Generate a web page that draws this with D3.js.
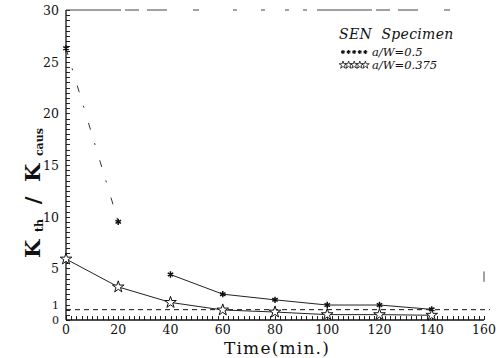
<!DOCTYPE html>
<html>
<head>
<meta charset="utf-8">
<script src="https://cdn.jsdelivr.net/npm/d3@7"></script>
<style>
	body { margin: 0; background: #fff; }
	svg text { font-family: "DejaVu Serif", "Liberation Serif", serif; fill: #111; }
</style>
</head>
<body>
<div id="graphic"></div>
<script>
// Data
const times = [0, 20, 40, 60, 80, 100, 120, 140];
const ratioHalf = [26.3, 9.5, 4.4, 2.5, 1.95, 1.45, 1.45, 1.03];   // a/W=0.5
const ratioThreeEighths = [5.9, 3.2, 1.7, 0.97, 0.77, 0.52, 0.52, 0.46]; // a/W=0.375
const xTicks = [0, 20, 40, 60, 80, 100, 120, 140, 160];
const yTicks = [0, 1, 5, 10, 15, 20, 25, 30];
const refLevel = 1;

const width = 502, height = 358;
const x = d3.scaleLinear().domain([0, 160]).range([66, 484]);
const y = d3.scaleLinear().domain([0, 30]).range([320, 10]);

const svg = d3.select('#graphic').append('svg')
	.attr('width', width)
	.attr('height', height);

// minor ticks, drawn inward like the original plotter output
svg.append('g').selectAll('line').data(d3.range(0, 161, 2)).join('line')
	.attr('x1', d => Math.round(x(d)) + 0.5).attr('x2', d => Math.round(x(d)) + 0.5)
	.attr('y1', y(0)).attr('y2', y(0) - 4)
	.attr('stroke', '#222').attr('stroke-width', 1);

svg.append('g').selectAll('line').data(d3.range(0, 30.01, 0.5)).join('line')
	.attr('x1', x(0)).attr('x2', x(0) + 4)
	.attr('y1', d => Math.round(y(d)) + 0.5).attr('y2', d => Math.round(y(d)) + 0.5)
	.attr('stroke', '#222').attr('stroke-width', 1);

// frame lines
svg.append('line')
	.attr('x1', x(0)).attr('x2', x(160))
	.attr('y1', y(0)).attr('y2', y(0))
	.attr('stroke', '#111').attr('stroke-width', 1.3);
svg.append('line')
	.attr('x1', x(0)).attr('x2', x(0))
	.attr('y1', y(0)).attr('y2', y(30))
	.attr('stroke', '#111').attr('stroke-width', 1.3);
svg.append('line')
	.attr('x1', x(0)).attr('x2', x(160))
	.attr('y1', y(30)).attr('y2', y(30))
	.attr('stroke', '#444').attr('stroke-width', 1)
	.attr('stroke-dasharray', '55,4,14,8,20,26,6,34,4,24,4,20,4,14,4,10');
svg.append('line')
	.attr('x1', x(160)).attr('x2', x(160))
	.attr('y1', y(4.7)).attr('y2', y(3.7))
	.attr('stroke', '#444').attr('stroke-width', 1);

// reference dashed line at 1
svg.append('line')
	.attr('x1', x(0)).attr('x2', x(160) + 6)
	.attr('y1', y(refLevel)).attr('y2', y(refLevel))
	.attr('stroke', '#111').attr('stroke-width', 1)
	.attr('stroke-dasharray', '5,4');

// tick labels
svg.append('g').selectAll('text').data(xTicks).join('text')
	.attr('x', d => x(d)).attr('y', 334)
	.attr('text-anchor', 'middle')
	.style('font-size', '12.5px')
	.text(d => d);

svg.append('g').selectAll('text').data(yTicks).join('text')
	.attr('x', 59)
	.attr('y', d => d === 0 ? y(d) + 4 : (d === 1 ? y(d) - 1 : y(d) + 5))
	.attr('text-anchor', 'end')
	.style('font-size', d => d <= 1 ? '11px' : '12.5px')
	.text(d => d);

// axis titles
svg.append('text')
	.attr('x', x(80) + 2).attr('y', 354)
	.attr('text-anchor', 'middle')
	.style('font-size', '17px')
	.style('letter-spacing', '1.2px')
	.text('Time(min.)');

const yTitle = svg.append('text')
	.attr('transform', `translate(40,${193}) rotate(-90)`)
	.attr('text-anchor', 'middle')
	.style('font-size', '21px')
	.style('font-weight', 'bold')
	.style('white-space', 'pre');
yTitle.append('tspan').text('K');
yTitle.append('tspan').attr('dy', 3).style('font-size', '11px').text('  th');
yTitle.append('tspan').attr('dy', -3).text('  /  K');
yTitle.append('tspan').attr('dy', 3).style('font-size', '11px').text('  caus');

// series lines
const half = times.map((t, i) => ({ t, v: ratioHalf[i] }));
const eighth = times.map((t, i) => ({ t, v: ratioThreeEighths[i] }));
const line = d3.line().x(d => x(d.t)).y(d => y(d.v));

svg.append('path').datum(half.slice(0, 2))
	.attr('d', line).attr('fill', 'none')
	.attr('stroke', '#333').attr('stroke-width', 1)
	.attr('stroke-dasharray', '7,14,2,16');
svg.append('path').datum(half.slice(2))
	.attr('d', line).attr('fill', 'none')
	.attr('stroke', '#222').attr('stroke-width', 1);
svg.append('path').datum(eighth)
	.attr('d', line).attr('fill', 'none')
	.attr('stroke', '#222').attr('stroke-width', 1);

// markers
const asterisk = d3.symbol().type(d3.symbolAsterisk).size(28);
const star = d3.symbol().type(d3.symbolStar).size(42);

svg.append('g').selectAll('path').data(half).join('path')
	.attr('transform', d => `translate(${x(d.t)},${y(d.v)})`)
	.attr('d', asterisk)
	.attr('fill', 'none').attr('stroke', '#111').attr('stroke-width', 1.5);

svg.append('g').selectAll('path').data(eighth).join('path')
	.attr('transform', d => `translate(${x(d.t)},${y(d.v)})`)
	.attr('d', star)
	.attr('fill', '#fff').attr('stroke', '#111').attr('stroke-width', 1);

// legend
const legend = svg.append('g');
legend.append('text')
	.attr('x', 339).attr('y', 39)
	.style('font-size', '14px').style('font-style', 'italic')
	.style('letter-spacing', '0.3px')
	.style('white-space', 'pre')
	.text('SEN  Specimen');

const legendRows = [
	{ label: 'a/W=0.5', sym: d3.symbol().type(d3.symbolAsterisk).size(12), fill: 'none', sw: 1.2, y: 56 },
	{ label: 'a/W=0.375', sym: d3.symbol().type(d3.symbolStar).size(18), fill: '#fff', sw: 0.8, y: 69 }
];
legendRows.forEach(r => {
	legend.append('g').selectAll('path').data(d3.range(5)).join('path')
		.attr('transform', i => `translate(${343 + i * 5.6},${r.y - 4})`)
		.attr('d', r.sym)
		.attr('fill', r.fill).attr('stroke', '#111').attr('stroke-width', r.sw);
	legend.append('text')
		.attr('x', 372).attr('y', r.y)
		.style('font-size', '11.5px').style('font-style', 'italic')
		.text(r.label);
});
</script>
</body>
</html>
